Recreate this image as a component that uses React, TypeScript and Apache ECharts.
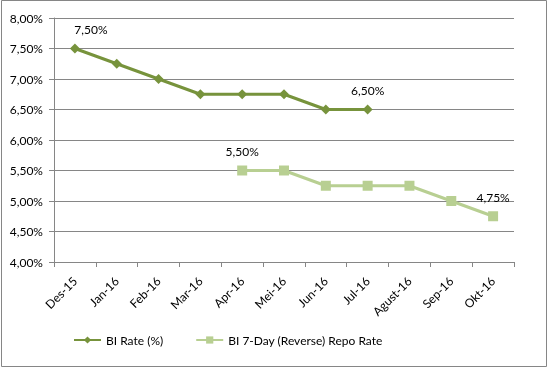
import React, { useEffect, useRef } from "react";
import * as echarts from "echarts";

const categories = ["Des-15", "Jan-16", "Feb-16", "Mar-16", "Apr-16", "Mei-16", "Jun-16", "Jul-16", "Agust-16", "Sep-16", "Okt-16"];
const biRate: (number | null)[] = [7.5, 7.25, 7.0, 6.75, 6.75, 6.75, 6.5, 6.5, null, null, null];
const repoRate: (number | null)[] = [null, null, null, null, 5.5, 5.5, 5.25, 5.25, 5.25, 5.0, 4.75];
const biLabelIdx = [0, 7];
const repoLabelIdx = [4, 10];

const fmt = (v: number) => v.toFixed(2).replace(".", ",") + "%";
const FONT = "Lato, 'Open Sans', sans-serif";

export default function App() {
  const ref = useRef<HTMLDivElement>(null);
  useEffect(() => {
    document.body.style.margin = "0";
    const chart = echarts.init(ref.current!, null, { renderer: "svg" });
    const mk = (vals: (number | null)[], idx: number[]) =>
      vals.map((v, i) =>
        idx.includes(i) && v != null
          ? {
              value: v,
              label: {
                show: true,
                position: "top",
                distance: 8,
                offset: i === 0 ? [16, 0] : [0, 0],
                formatter: () => fmt(v),
              },
            }
          : v
      );
    chart.setOption({
      animation: false,
      textStyle: { fontFamily: FONT },
      graphic: [
        {
          type: "rect",
          shape: { x: 1.5, y: 0.5, width: 545, height: 366 },
          style: { fill: "none", stroke: "#868686", lineWidth: 1 },
          silent: true,
        },
      ],
      grid: { left: 54, right: 37, top: 18, bottom: 107, containLabel: false },
      legend: {
        left: 68,
        top: 329,
        itemGap: 32,
        itemWidth: 27,
        itemHeight: 9,
        textStyle: { fontFamily: FONT, fontSize: 12, color: "#000" },
        data: ["BI Rate (%)", "BI 7-Day (Reverse) Repo Rate"],
      },
      xAxis: {
        type: "category",
        data: categories,
        boundaryGap: true,
        axisLine: { lineStyle: { color: "#868686", width: 1 } },
        axisTick: { show: true, alignWithLabel: false, length: 5, lineStyle: { color: "#868686" } },
        axisLabel: { rotate: 45, fontSize: 12, color: "#000", fontFamily: FONT, margin: 17, interval: 0 },
      },
      yAxis: {
        type: "value",
        min: 4,
        max: 8,
        interval: 0.5,
        axisLine: { show: true, lineStyle: { color: "#868686", width: 1 } },
        axisTick: { show: true, length: 5, lineStyle: { color: "#868686" } },
        splitLine: { show: true, lineStyle: { color: "#868686", width: 1 } },
        axisLabel: { formatter: (v: number) => fmt(v), fontSize: 12, color: "#000", fontFamily: FONT, margin: 11 },
      },
      series: [
        {
          name: "BI Rate (%)",
          type: "line",
          data: mk(biRate, biLabelIdx),
          symbol: "diamond",
          symbolSize: 10,
          connectNulls: false,
          lineStyle: { color: "#77933C", width: 3 },
          itemStyle: { color: "#77933C" },
          label: { color: "#000", fontSize: 12, fontFamily: FONT },
        },
        {
          name: "BI 7-Day (Reverse) Repo Rate",
          type: "line",
          data: mk(repoRate, repoLabelIdx),
          symbol: "rect",
          symbolSize: 10,
          connectNulls: false,
          lineStyle: { color: "#B8CF92", width: 3 },
          itemStyle: { color: "#B8CF92" },
          label: { color: "#000", fontSize: 12, fontFamily: FONT },
        },
      ],
    });
    return () => chart.dispose();
  }, []);
  return <div ref={ref} style={{ position: "fixed", left: 0, top: 0, width: 551, height: 369 }} />;
}
